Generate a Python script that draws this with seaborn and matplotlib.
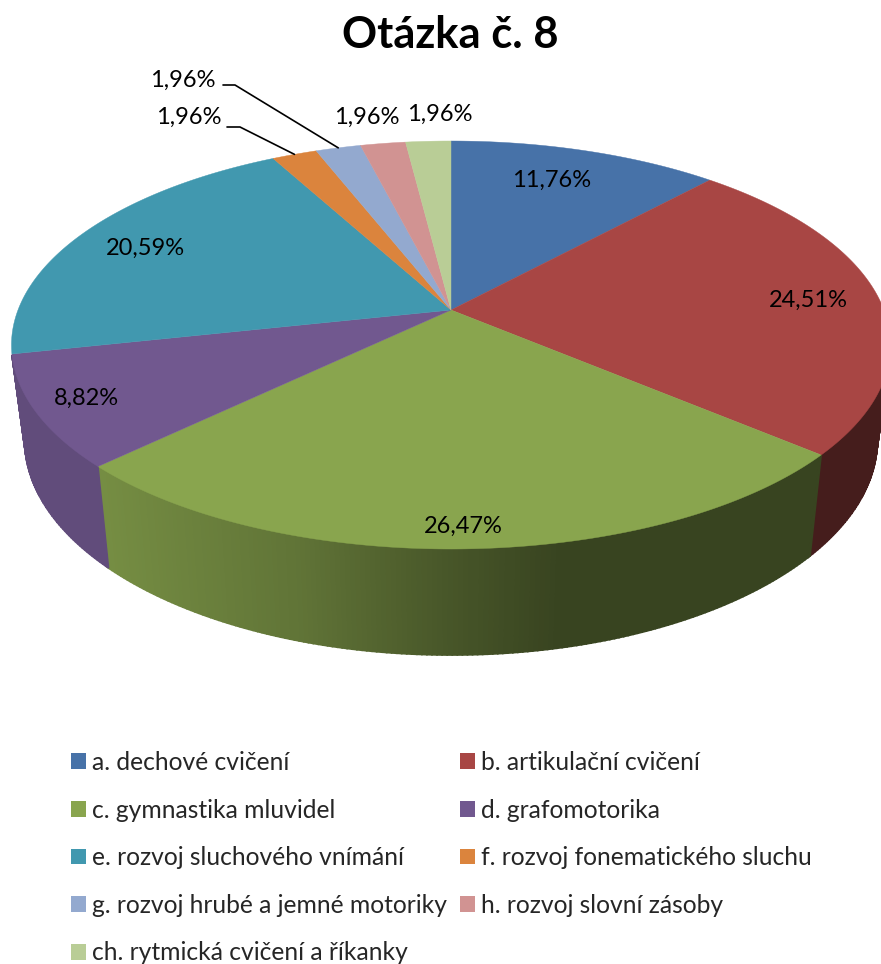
import numpy as np
import matplotlib
matplotlib.use("Agg")
import matplotlib.pyplot as plt
from matplotlib.patches import Patch
import seaborn as sns

categorias = ["a. dechové cvičení", "b. artikulační cvičení", "c. gymnastika mluvidel",
              "d. grafomotorika", "e. rozvoj sluchového vnímání", "f. rozvoj fonematického sluchu",
              "g. rozvoj hrubé a jemné motoriky", "h. rozvoj slovní zásoby",
              "ch. rytmická cvičení a říkanky"]
valores = [11.76, 24.51, 26.47, 8.82, 20.59, 1.96, 1.96, 1.96, 1.96]
colores = ["#4772A8", "#A84644", "#89A54E", "#71588F", "#4198AF", "#DB843D", "#93A9CF", "#D19392", "#B9CD96"]

# layout of the tilted disc, in pixels
cx, cy = 451, 310
k = 0.1716
a, b = 198, 433
# where the labels sit
pos_etiquetas = [(552, 180), (808, 300), (463, 526), (86, 398), (145, 248),
                 (189, 117), (183, 80), (367, 117), (440, 114)]
codos = {5: [(227, 127), (240, 127)], 6: [(223, 85), (235, 85)]}


def arriba(t):
    # perspective view of the unit circle, t clockwise from the top
    x, y = np.sin(t), np.cos(t)
    d = 1 + k * y
    return cx + b * x / d, cy - a * y / d


def abajo(t):
    x, y = arriba(t)
    return cx + 0.97 * (x - cx), 440 + 1.054 * (y - 345)


def sombra(x):
    return np.interp(x, [95, 300, 450, 560], [0.86, 0.70, 0.52, 0.41])


sns.set_theme(style="white")
plt.rcParams["font.family"] = ["Lato", "DejaVu Sans"]
paleta = sns.color_palette(colores)

fig = plt.figure(figsize=(8.81, 9.64), dpi=100)
ax = fig.add_axes([0, 0, 1, 1])
ax.set_xlim(0, 881)
ax.set_ylim(964, 0)
ax.axis("off")

bordes = np.cumsum([0] + valores) / sum(valores) * 2 * np.pi

# front wall first, the top goes over it
for i, color in enumerate(paleta):
    t = np.arange(bordes[i], bordes[i + 1] + 0.01, 0.01)
    for t0, t1 in zip(t[:-1], t[1:]):
        if np.cos((t0 + t1) / 2) > -0.217:
            continue
        x0, y0 = arriba(t0)
        x1, y1 = arriba(t1)
        x2, y2 = abajo(t1)
        x3, y3 = abajo(t0)
        c = np.array(color) * sombra((x0 + x1) / 2)
        ax.fill([x0, x1, x2, x3], [y0, y1, y2, y3], color=c, lw=1.2, zorder=1)

for i, color in enumerate(paleta):
    t = np.linspace(bordes[i], bordes[i + 1], 200)
    x, y = arriba(t)
    ax.fill(np.r_[cx, x], np.r_[cy, y], color=color, lw=0.3, zorder=2)

for i, v in enumerate(valores):
    texto = f"{v:.2f}".replace(".", ",") + "%"
    ax.text(pos_etiquetas[i][0], pos_etiquetas[i][1], texto, ha="center", va="center",
            fontsize=17, color="black", zorder=4)

for i, codo in codos.items():
    fin = arriba((bordes[i] + bordes[i + 1]) / 2)
    xs = [p[0] for p in codo] + [fin[0]]
    ys = [p[1] for p in codo] + [fin[1]]
    ax.plot(xs, ys, color="black", lw=1.2, zorder=3)

ax.text(450, 35, "Otázka č. 8", ha="center", va="center", fontsize=31.3,
        fontweight="bold", color="black")

# matplotlib fills the legend column by column, the reference reads row by row
orden = [0, 2, 4, 6, 8, 1, 3, 5, 7]
manejadores = [Patch(facecolor=paleta[i], edgecolor="none") for i in orden]
fig.legend(manejadores, [categorias[i] for i in orden], ncol=2, loc="upper left", frameon=False,
           bbox_to_anchor=(71 / 881, 1 - 751 / 964), borderpad=0, borderaxespad=0,
           fontsize=17.7, handlelength=0.62, handleheight=0.62, handletextpad=0.25,
           labelspacing=1.0, columnspacing=0.5)

fig.savefig("out.png", dpi=100, facecolor="white")
